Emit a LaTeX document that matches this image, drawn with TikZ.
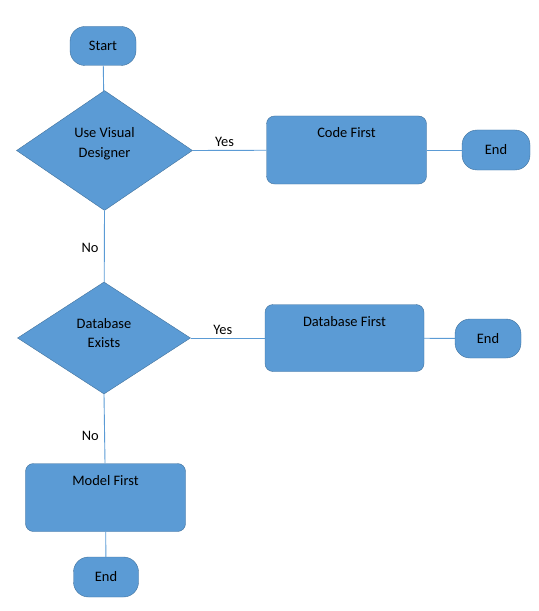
\documentclass[tikz,border=0pt]{standalone}
\usepackage{fontspec}
\setmainfont{Carlito}
\usepackage{tikz}
\usetikzlibrary{shapes.geometric,positioning}

\definecolor{boxfill}{HTML}{5B9BD5}
\definecolor{boxline}{HTML}{41719C}
\definecolor{wire}{HTML}{5B9BD5}

\begin{document}
\begin{tikzpicture}[x=1bp,y=-1bp,font=\fontsize{14.5}{20}\selectfont]
  \tikzstyle{Terminal}=[draw=boxline,fill=boxfill,rounded corners=15bp,
                        minimum width=66bp,minimum height=39bp,inner sep=0pt]
  \tikzstyle{Decision}=[draw=boxline,fill=boxfill,diamond,inner sep=0pt,
                        minimum width=176bp,minimum height=120bp]
  \tikzstyle{Process}=[draw=boxline,fill=boxfill,rounded corners=8bp,
                       minimum width=160bp,minimum height=68bp,inner sep=0pt]
  \tikzstyle{EdgeStyle}=[draw=wire,line width=0.9bp]

  \useasboundingbox (0,0) rectangle (539,611);

  \node[Terminal] (start) at (103,46) {Start};
  \node[Decision,label={[align=center,anchor=center,yshift=7pt]center:Use Visual\\Designer}] (visual) at (104.5,150.5) {};
  \node[Process,label={[anchor=center,yshift=-17pt]north:Code First}] (code) at (346.5,150) {};
  \node[Terminal,minimum width=68bp,minimum height=40bp] (end1) at (496,150) {End};

  \node[Decision,minimum width=173bp,minimum height=112bp,label={[align=center,anchor=center,yshift=5pt]center:Database\\Exists}] (exists) at (104,338) {};
  \node[Process,minimum width=159bp,minimum height=67bp,label={[anchor=center,yshift=-17pt]north:Database First}] (dbfirst) at (344.5,338) {};
  \node[Terminal,minimum width=66bp] (end2) at (488,338.5) {End};

  \node[Process,label={[anchor=center,yshift=-17pt]north:Model First}] (model) at (105.5,497.5) {};
  \node[Terminal,minimum width=65bp,minimum height=40bp] (end3) at (106,577) {End};

  % connectors
  \draw[EdgeStyle] (start) -- (visual);
  \draw[EdgeStyle] (visual.east) -- node[above,text=black,xshift=-5bp]{Yes} (code);
  \draw[EdgeStyle] (code) -- (end1);
  \draw[EdgeStyle] (visual.south) -- node[left,text=black,xshift=-2bp,yshift=-2bp]{No} (exists);
  \draw[EdgeStyle] (exists.east) -- node[above,text=black,xshift=-5bp]{Yes} (dbfirst);
  \draw[EdgeStyle] (dbfirst) -- (end2);
  \draw[EdgeStyle] (exists.south) -- node[left,text=black,xshift=-2bp,yshift=-7bp]{No} (model);
  \draw[EdgeStyle] (model) -- (end3);
\end{tikzpicture}
\end{document}
